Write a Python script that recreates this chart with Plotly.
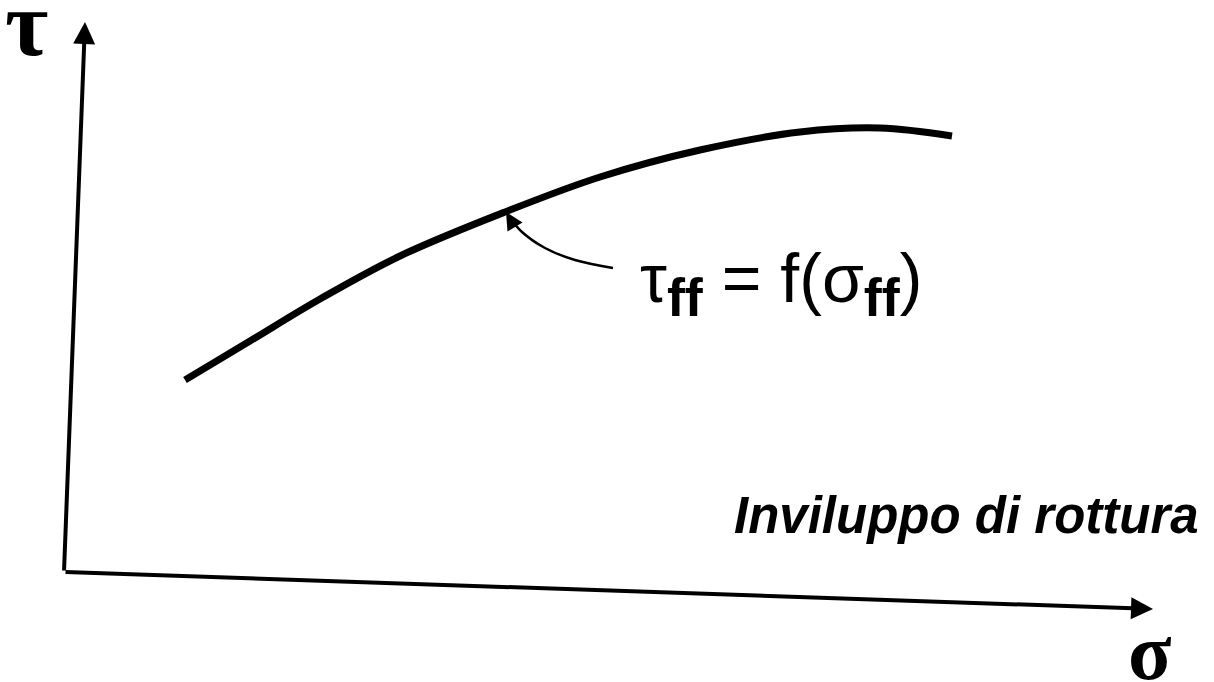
import plotly.graph_objects as go

# Failure envelope curve (diagram units: x to the right, y downward in picture space)
curve_x = [185, 250, 320, 400, 505, 600, 700, 800, 880, 952]
curve_y = [380, 341, 299, 256, 212, 177, 150, 132, 128, 136]

# leader line from label to curve
leader_x = [613, 575, 545, 522, 510]
leader_y = [268, 260, 248, 232, 218]

# axes
origin = (64, 572)
x_axis_tip = (1153, 609)
y_axis_tip = (85, 22)

fig = go.Figure()
fig.add_trace(go.Scatter(x=curve_x, y=curve_y, mode="lines",
                         line=dict(color="black", width=7, shape="spline"),
                         hoverinfo="skip", showlegend=False))
fig.add_trace(go.Scatter(x=leader_x, y=leader_y, mode="lines",
                         line=dict(color="black", width=2.5, shape="spline"),
                         hoverinfo="skip", showlegend=False))

# leader arrowhead
fig.add_annotation(x=506, y=212, ax=leader_x[-1] + 2, ay=leader_y[-1] + 4,
                   xref="x", yref="y", axref="x", ayref="y", text="",
                   showarrow=True, arrowhead=2, arrowsize=1.4, arrowwidth=2.5,
                   arrowcolor="black")

# axes arrows
fig.add_annotation(x=x_axis_tip[0], y=x_axis_tip[1], ax=origin[0], ay=origin[1],
                   xref="x", yref="y", axref="x", ayref="y", text="",
                   showarrow=True, arrowhead=2, arrowsize=1.1, arrowwidth=4,
                   arrowcolor="black")
fig.add_annotation(x=y_axis_tip[0], y=y_axis_tip[1], ax=origin[0], ay=origin[1],
                   xref="x", yref="y", axref="x", ayref="y", text="",
                   showarrow=True, arrowhead=2, arrowsize=1.1, arrowwidth=4,
                   arrowcolor="black")

# labels
fig.add_annotation(x=26, y=23, text="<b>τ</b>", showarrow=False, xref="x", yref="y",
                   font=dict(family="Liberation Serif", size=94, color="black"))
fig.add_annotation(x=1150, y=652, text="<b>σ</b>", showarrow=False, xref="x", yref="y",
                   font=dict(family="Liberation Serif", size=80, color="black"))
sub_ff = "<sub><span style='font-size:54px'><b>ff</b></span></sub>"
fig.add_annotation(x=638, y=283, text="τ" + sub_ff + " = f(σ" + sub_ff + ")", showarrow=False,
                   xref="x", yref="y", xanchor="left",
                   font=dict(family="Liberation Sans", size=68, color="black"))
fig.add_annotation(x=1201, y=515, text="<b><i>Inviluppo di rottura</i></b>", showarrow=False,
                   xref="x", yref="y", xanchor="right",
                   font=dict(family="Liberation Sans", size=51, color="black"))

fig.update_layout(
    width=1214, height=682,
    margin=dict(l=0, r=0, t=0, b=0),
    paper_bgcolor="white", plot_bgcolor="white",
    xaxis=dict(range=[0, 1214], visible=False, fixedrange=True),
    yaxis=dict(range=[682, 0], visible=False, fixedrange=True),
)
fig.write_html("out.html", config={"displayModeBar": False},
               post_script="document.body.style.margin='0';document.body.style.overflow='hidden';")
